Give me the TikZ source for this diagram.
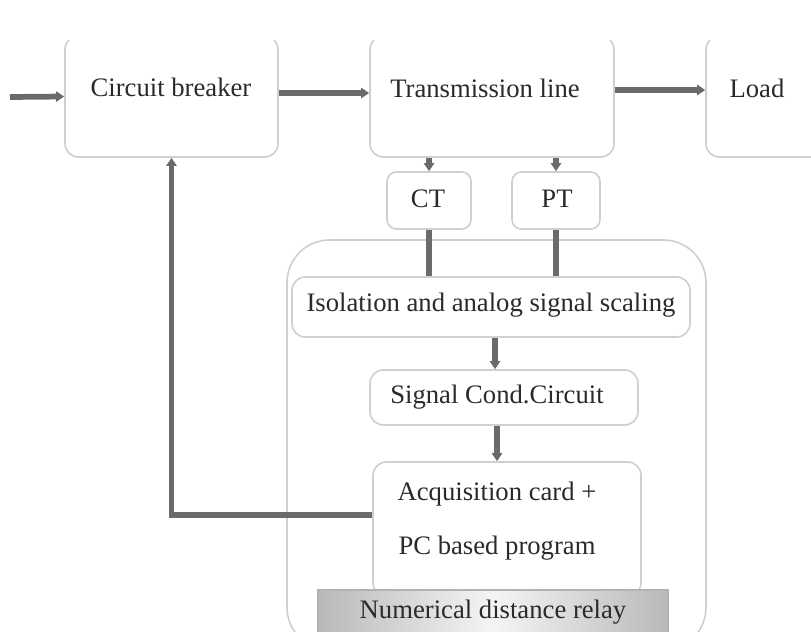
\documentclass[tikz,border=0pt]{standalone}
\usepackage{fontspec}
\setmainfont{Liberation Serif}
\usetikzlibrary{arrows.meta}
\definecolor{arr}{HTML}{6A6A6A}
\definecolor{bord}{HTML}{CFCFCF}
\definecolor{txt}{HTML}{2A2A2A}
\begin{document}
\begin{tikzpicture}[x=0.75pt,y=-0.75pt,
  boxst/.style={draw=bord,line width=1.2pt,rounded corners=10pt,fill=white,inner sep=0pt},
  lbl/.style={text=txt,font=\fontsize{20}{24}\selectfont,inner sep=0pt,anchor=center},
  conn/.style={draw=arr,line width=4.3pt},
  arrw/.style={conn,-{Triangle[length=6pt,width=7.5pt]}}]
\useasboundingbox (0,0) rectangle (811,632);
\fill[white] (0,0) rectangle (811,632);
% top boxes (their top edges are cut off)
\begin{scope}
\clip (0,40) rectangle (811,632);
\node[boxst,minimum width=213*0.75pt,minimum height=121*0.75pt] (cb) at (171.5,96.5) {};
\node[boxst,minimum width=244*0.75pt,minimum height=121*0.75pt] (tl) at (492,96.5) {};
\node[boxst,minimum width=124*0.75pt,minimum height=121*0.75pt] (load) at (768,96.5) {};
\end{scope}
\node[lbl] (cbt) at (171,87) {Circuit breaker};
\node[lbl] (tlt) at (485,88) {Transmission line};
\node[lbl] (loadt) at (757,88) {Load};
% CT / PT
\node[boxst,rounded corners=7pt,minimum width=84*0.75pt,minimum height=57*0.75pt] (ct) at (429,200.5) {};
\node[lbl] (ctt) at (428,199) {CT};
\node[boxst,rounded corners=7pt,minimum width=88*0.75pt,minimum height=57*0.75pt] (pt) at (556,200.5) {};
\node[lbl] (ptt) at (557,199) {PT};
% container
\begin{scope}
\clip (0,0) rectangle (811,632);
\node[boxst,rounded corners=32pt,minimum width=419*0.75pt,minimum height=410*0.75pt] (cont) at (496.5,445) {};
\end{scope}
% inner boxes
\node[boxst,minimum width=398*0.75pt,minimum height=60*0.75pt] (iso) at (491,307) {};
\node[lbl] (isot) at (491,305) {Isolation and analog signal scaling};
\node[boxst,minimum width=268*0.75pt,minimum height=55*0.75pt] (sig) at (504,397.5) {};
\node[lbl] (sigt) at (497,397) {Signal Cond.Circuit};
\node[boxst,minimum width=268*0.75pt,minimum height=134*0.75pt] (acq) at (507,529) {};
\node[lbl] (acqt1) at (497,494) {Acquisition card +};
\node[lbl] (acqt2) at (497,548) {PC based program};
\begin{scope}
\clip (0,0) rectangle (811,632);
\node[draw=gray!60,line width=1pt,left color=gray!55,right color=gray!55,middle color=gray!8,minimum width=350*0.75pt,minimum height=60*0.75pt,inner sep=0pt] (ndr) at (493,620) {};
\end{scope}
\node[lbl] (ndrt) at (493,612) {Numerical distance relay};
% connectors
\coordinate (src) at (10,97);
\coordinate (y93) at (0,93);
\coordinate (y90) at (0,90);
\coordinate (y515) at (0,515);
\draw[arrw] (src) -- (cb.west);
\draw[arrw] (cb.east |- y93) -- (tl.west |- y93);
\draw[arrw] (tl.east |- y90) -- (load.west |- y90);
\draw[arrw] (ct.north |- tl.south) -- (ct.north);
\draw[arrw] (pt.north |- tl.south) -- (pt.north);
\draw[conn] (ct.south) -- (ct.south |- iso.north);
\draw[conn] (pt.south) -- (pt.south |- iso.north);
\draw[arrw] (iso.south -| sig.north) ++(-9,0) coordinate (isoa) (isoa) -- (isoa |- sig.north);
\draw[arrw] (sig.south) ++(-7,0) coordinate (siga) (siga) -- (siga |- acq.north);
\draw[arrw] (acq.west |- y515) -| (cb.south);
\end{tikzpicture}
\end{document}
